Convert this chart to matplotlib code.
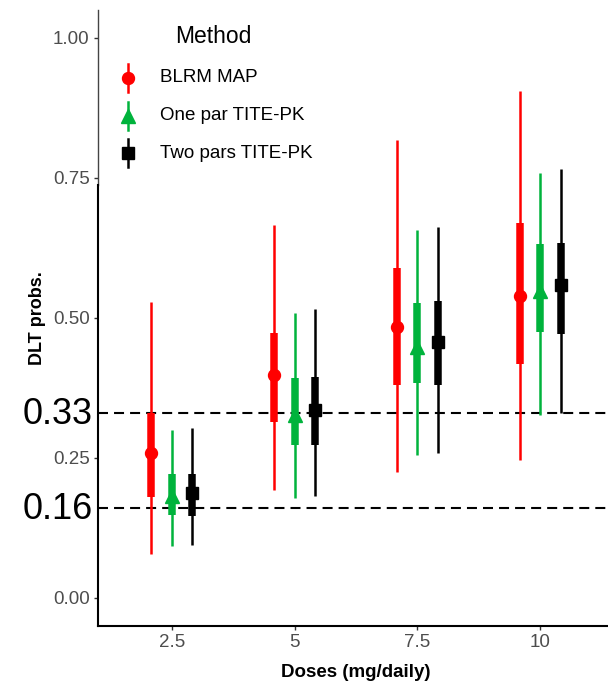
import numpy as np
import matplotlib
matplotlib.use("Agg")
import matplotlib.pyplot as plt

plt.rcParams['font.family'] = ['Liberation Sans', 'DejaVu Sans']

# doses on the x axis
doses = ["2.5", "5", "7.5", "10"]
methods = ["BLRM MAP", "One par TITE-PK", "Two pars TITE-PK"]
colors = ["#FF0000", "#00B33C", "#000000"]
markers = ["o", "^", "s"]

# medians, inner (thick) and outer (thin) intervals per method
blrm_mid = [0.259, 0.398, 0.484, 0.539]
blrm_in_lo = [0.180, 0.314, 0.380, 0.418]
blrm_in_hi = [0.330, 0.473, 0.589, 0.670]
blrm_out_lo = [0.079, 0.193, 0.225, 0.246]
blrm_out_hi = [0.529, 0.666, 0.818, 0.905]

one_mid = [0.183, 0.327, 0.448, 0.548]
one_in_lo = [0.148, 0.273, 0.384, 0.475]
one_in_hi = [0.221, 0.393, 0.527, 0.632]
one_out_lo = [0.093, 0.179, 0.255, 0.327]
one_out_hi = [0.300, 0.509, 0.657, 0.759]

two_mid = [0.187, 0.336, 0.457, 0.559]
two_in_lo = [0.147, 0.273, 0.380, 0.471]
two_in_hi = [0.222, 0.395, 0.530, 0.634]
two_out_lo = [0.095, 0.182, 0.259, 0.330]
two_out_hi = [0.304, 0.516, 0.663, 0.766]

# target thresholds
thresholds = [0.33, 0.16]
threshold_labels = ["0.33", "0.16"]

series = [
    (blrm_mid, blrm_in_lo, blrm_in_hi, blrm_out_lo, blrm_out_hi),
    (one_mid, one_in_lo, one_in_hi, one_out_lo, one_out_hi),
    (two_mid, two_in_lo, two_in_hi, two_out_lo, two_out_hi),
]
offsets = [-0.165, 0.0, 0.165]
msizes = [8.6, 10.5, 9.0]

fig = plt.figure(figsize=(6.08, 6.81), dpi=100)
ax = fig.add_axes([98 / 608, 55 / 681, 516 / 608, 616 / 681])
ax.set_xlim(0.4, 4.6)
ax.set_ylim(-0.05, 1.05)

for t in thresholds:
    ax.axhline(t, color="black", lw=1.5, ls=(0, (4.8, 2.9)), zorder=1)

x = np.arange(len(doses)) + 1
for (mid, ilo, ihi, olo, ohi), off, c, m, ms in zip(series, offsets, colors, markers, msizes):
    ax.vlines(x + off, olo, ohi, color=c, lw=1.8, zorder=2)
    ax.vlines(x + off, ilo, ihi, color=c, lw=5.4, zorder=3)
    ax.plot(x + off, mid, ls="none", marker=m, ms=ms, color=c, zorder=4)

ax.set_xticks(x)
ax.set_xticklabels(doses)
ax.set_yticks([0, 0.25, 0.5, 0.75, 1.0])
ax.set_yticklabels(["0.00", "0.25", "0.50", "0.75", "1.00"])
ax.tick_params(colors="#333333", labelcolor="#4D4D4D", labelsize=13.5, length=3, width=1, pad=3)

for s in ["top", "right", "left"]:
    ax.spines[s].set_visible(False)
ax.spines["bottom"].set_linewidth(1.5)
ax.spines["bottom"].set_color("black")

# left axis line: thin grey above, thick black below
split = (0.7375 + 0.05) / 1.1
ax.axvline(0.4, ymin=split, ymax=1, color="#444444", lw=1.0, clip_on=False)
ax.axvline(0.4, ymin=0, ymax=split, color="black", lw=1.5, clip_on=False)

ax.set_xlabel("Doses (mg/daily)", fontweight="bold", fontsize=13.5, labelpad=9)
ax.set_ylabel("DLT probs.", fontweight="bold", fontsize=13, labelpad=5)

# overlay in pixel coordinates for legend and big labels
ov = fig.add_axes([0, 0, 1, 1])
ov.set_xlim(0, 608)
ov.set_ylim(681, 0)
ov.axis("off")
ov.patch.set_alpha(0)

ov.text(175, 43, "Method", fontsize=16.5, ha="left", va="baseline")
leg_y = [78, 116, 153]
for name, c, m, ms, ly in zip(methods, colors, markers, msizes, leg_y):
    ov.plot([128, 128], [ly - 14, ly + 14], color=c, lw=1.8)
    ov.plot([128], [ly], marker=m, ms=ms, color=c)
    ov.text(160, ly, name, fontsize=13.5, ha="left", va="center")

for t, lab in zip(thresholds, threshold_labels):
    py = 598 - t * 560
    ov.text(93, py + 11, lab, fontsize=26, ha="right", va="baseline", color="black")

fig.savefig("out.png", dpi=100)
